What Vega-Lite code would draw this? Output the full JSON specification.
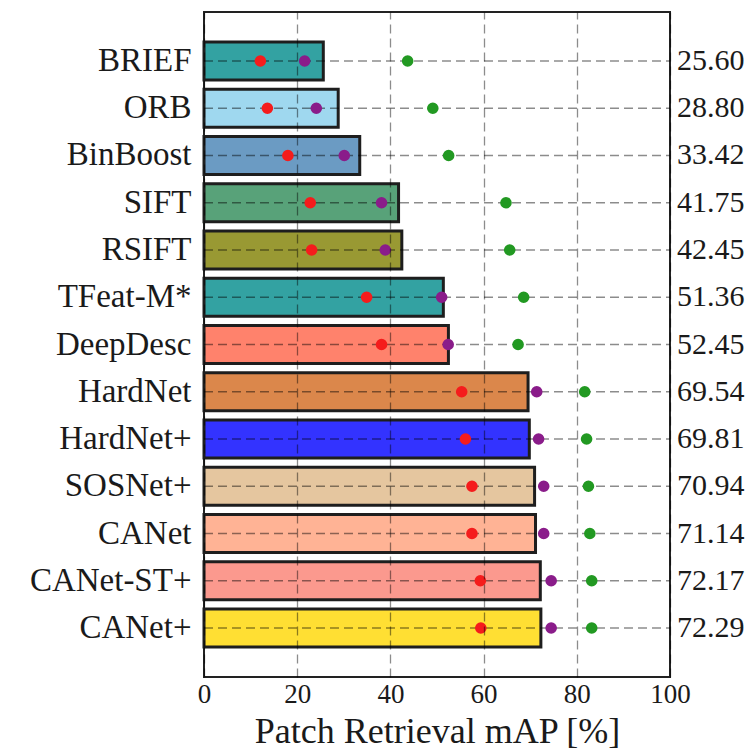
{
  "$schema": "https://vega.github.io/schema/vega-lite/v6.json",
  "autosize": {"type": "none"},
  "padding": {"left": 204, "top": 12, "right": 79, "bottom": 78},
  "width": 466,
  "height": 665,
  "background": "white",
  "config": {
    "view": {"stroke": "#222", "strokeWidth": 2},
    "font": "Liberation Serif"
  },
  "datasets": {
    "bars": [
      {"method": "BRIEF", "map": 25.60},
      {"method": "ORB", "map": 28.80},
      {"method": "BinBoost", "map": 33.42},
      {"method": "SIFT", "map": 41.75},
      {"method": "RSIFT", "map": 42.45},
      {"method": "TFeat-M*", "map": 51.36},
      {"method": "DeepDesc", "map": 52.45},
      {"method": "HardNet", "map": 69.54},
      {"method": "HardNet+", "map": 69.81},
      {"method": "SOSNet+", "map": 70.94},
      {"method": "CANet", "map": 71.14},
      {"method": "CANet-ST+", "map": 72.17},
      {"method": "CANet+", "map": 72.29}
    ],
    "points": [
      {"method": "BRIEF", "series": "a", "map": 12.1},
      {"method": "BRIEF", "series": "b", "map": 21.6},
      {"method": "BRIEF", "series": "c", "map": 43.7},
      {"method": "ORB", "series": "a", "map": 13.6},
      {"method": "ORB", "series": "b", "map": 24.1},
      {"method": "ORB", "series": "c", "map": 49.1},
      {"method": "BinBoost", "series": "a", "map": 18.0},
      {"method": "BinBoost", "series": "b", "map": 30.1},
      {"method": "BinBoost", "series": "c", "map": 52.5},
      {"method": "SIFT", "series": "a", "map": 22.8},
      {"method": "SIFT", "series": "b", "map": 38.1},
      {"method": "SIFT", "series": "c", "map": 64.8},
      {"method": "RSIFT", "series": "a", "map": 23.1},
      {"method": "RSIFT", "series": "b", "map": 38.9},
      {"method": "RSIFT", "series": "c", "map": 65.6},
      {"method": "TFeat-M*", "series": "a", "map": 34.9},
      {"method": "TFeat-M*", "series": "b", "map": 51.0},
      {"method": "TFeat-M*", "series": "c", "map": 68.6},
      {"method": "DeepDesc", "series": "a", "map": 38.1},
      {"method": "DeepDesc", "series": "b", "map": 52.4},
      {"method": "DeepDesc", "series": "c", "map": 67.4},
      {"method": "HardNet", "series": "a", "map": 55.3},
      {"method": "HardNet", "series": "b", "map": 71.4},
      {"method": "HardNet", "series": "c", "map": 81.7},
      {"method": "HardNet+", "series": "a", "map": 56.1},
      {"method": "HardNet+", "series": "b", "map": 71.8},
      {"method": "HardNet+", "series": "c", "map": 82.1},
      {"method": "SOSNet+", "series": "a", "map": 57.5},
      {"method": "SOSNet+", "series": "b", "map": 72.9},
      {"method": "SOSNet+", "series": "c", "map": 82.5},
      {"method": "CANet", "series": "a", "map": 57.5},
      {"method": "CANet", "series": "b", "map": 72.9},
      {"method": "CANet", "series": "c", "map": 82.8},
      {"method": "CANet-ST+", "series": "a", "map": 59.3},
      {"method": "CANet-ST+", "series": "b", "map": 74.5},
      {"method": "CANet-ST+", "series": "c", "map": 83.2},
      {"method": "CANet+", "series": "a", "map": 59.4},
      {"method": "CANet+", "series": "b", "map": 74.5},
      {"method": "CANet+", "series": "c", "map": 83.2}
    ]
  },
  "encoding": {
    "y": {
      "field": "method",
      "type": "nominal",
      "sort": ["BRIEF", "ORB", "BinBoost", "SIFT", "RSIFT", "TFeat-M*", "DeepDesc", "HardNet", "HardNet+", "SOSNet+", "CANet", "CANet-ST+", "CANet+"],
      "scale": {"paddingInner": 0.2, "paddingOuter": 0.637},
      "axis": {
        "title": null,
        "ticks": false,
        "domain": false,
        "grid": false,
        "labelFont": "Liberation Serif",
        "labelFontSize": 33,
        "labelColor": "#1a1a1a",
        "labelPadding": 13
      }
    }
  },
  "layer": [
    {
      "data": {"name": "bars"},
      "mark": {"type": "bar", "stroke": "#1e1e1e", "strokeWidth": 3, "opacity": 1},
      "encoding": {
        "x": {
          "field": "map",
          "type": "quantitative",
          "scale": {"domain": [0, 100], "nice": false},
          "axis": {
            "title": "Patch Retrieval mAP [%]",
            "titleFont": "Liberation Serif",
            "titleFontSize": 36,
            "titleFontWeight": "normal",
            "titleColor": "#1a1a1a",
            "titlePadding": 7,
            "values": [0, 20, 40, 60, 80, 100],
            "labelFont": "Liberation Serif",
            "labelFontSize": 27,
            "labelColor": "#1a1a1a",
            "labelPadding": 4,
            "labelFlush": false,
            "labelOverlap": false,
            "ticks": false,
            "domain": false,
            "grid": true,
            "gridColor": "#000",
            "gridOpacity": 0.45,
            "gridWidth": 1.3,
            "gridDash": [9, 5],
            "zindex": 1
          }
        },
        "color": {
          "field": "method",
          "type": "nominal",
          "legend": null,
          "scale": {
            "domain": ["BRIEF", "ORB", "BinBoost", "SIFT", "RSIFT", "TFeat-M*", "DeepDesc", "HardNet", "HardNet+", "SOSNet+", "CANet", "CANet-ST+", "CANet+"],
            "range": ["#33a2a2", "#9fd8ef", "#6b9bc3", "#58a279", "#999933", "#33a2a2", "#ff826c", "#db874b", "#3333ff", "#e5c69f", "#ffb395", "#fb998e", "#ffdf33"]
          }
        }
      }
    },
    {
      "data": {"name": "bars"},
      "mark": {"type": "rule", "color": "#000", "opacity": 0.45, "strokeWidth": 1.3, "strokeDash": [9, 5]},
      "encoding": {
        "x": {"datum": 0, "type": "quantitative"},
        "x2": {"datum": 100}
      }
    },
    {
      "data": {"name": "points"},
      "mark": {"type": "circle", "size": 135, "opacity": 1},
      "encoding": {
        "x": {"field": "map", "type": "quantitative"},
        "color": {
          "field": "series",
          "type": "nominal",
          "legend": null,
          "scale": {"domain": ["a", "b", "c"], "range": ["#f51c1c", "#8a1c8a", "#229922"]}
        }
      }
    },
    {
      "data": {"name": "bars"},
      "mark": {"type": "text", "align": "left", "baseline": "middle", "dx": 7, "font": "Liberation Serif", "fontSize": 30, "color": "#1a1a1a"},
      "encoding": {
        "x": {"datum": 100, "type": "quantitative"},
        "text": {"field": "map", "type": "quantitative", "format": ".2f"}
      }
    }
  ],
  "resolve": {"scale": {"color": "independent"}}
}
